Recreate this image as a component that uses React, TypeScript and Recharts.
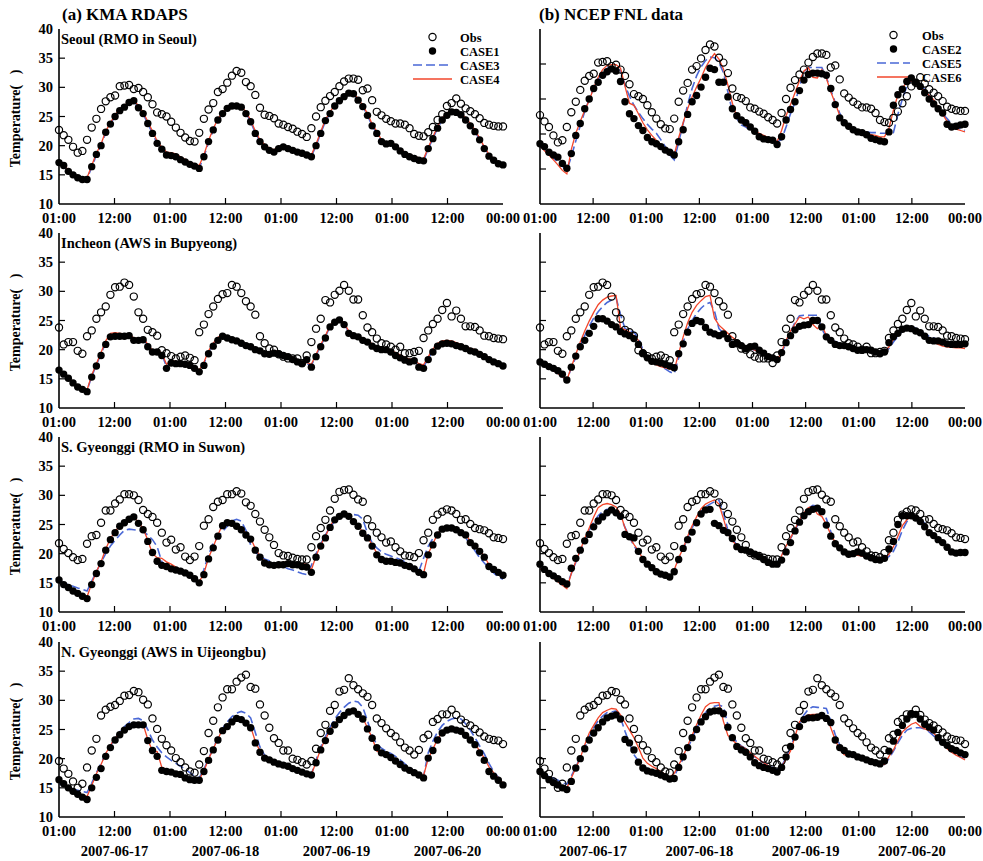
import React from "react";
import { ComposedChart, Line, XAxis, YAxis } from "recharts";

const FONT = '"Liberation Serif", "Times New Roman", serif';

const TIME_LABELS = ["01:00", "12:00", "01:00", "12:00", "01:00", "12:00", "01:00", "12:00", "00:00"];
const DATE_LABELS = ["2007-06-17", "2007-06-18", "2007-06-19", "2007-06-20"];
const KMA_NAMES = ["CASE1", "CASE3", "CASE4"];
const FNL_NAMES = ["CASE2", "CASE5", "CASE6"];

// hourly 2m temperature, 06-17 01:00 .. 06-21 00:00
const SEOUL_OBS = [
  22.7, 21.8, 21.0, 19.8, 18.8, 19.1, 21.0, 23.1, 24.6, 26.3, 27.6, 28.3, 28.6, 30.2, 30.3, 30.4, 29.7, 29.9, 29.2, 28.3, 27.1, 25.7, 25.4, 25.0,
  24.1, 23.1, 22.2, 21.4, 20.8, 20.7, 22.2, 24.6, 26.2, 27.3, 29.2, 29.7, 30.8, 32.0, 32.8, 32.5, 30.9, 30.2, 28.7, 26.5, 25.3, 25.1, 24.7, 23.8,
  23.6, 23.2, 22.9, 22.4, 22.0, 21.5, 23.0, 25.0, 26.6, 27.7, 28.5, 29.2, 30.2, 31.0, 31.5, 31.5, 31.3, 29.5, 29.8, 27.8, 25.8, 25.2, 24.6, 24.2,
  23.8, 23.8, 23.6, 23.0, 22.0, 21.7, 21.6, 22.3, 23.2, 24.4, 25.4, 26.8, 27.3, 28.1, 27.2, 26.4, 25.9, 25.4, 24.7, 23.9, 23.6, 23.4, 23.3, 23.3,
];
const SEOUL_CASE1 = [
  17.1, 16.6, 15.6, 15.0, 14.5, 14.2, 14.2, 16.4, 18.5, 20.0, 22.3, 23.7, 25.0, 26.0, 26.6, 27.4, 27.7, 26.5, 25.5, 23.8, 22.1, 20.4, 19.4, 18.4,
  18.3, 18.1, 17.6, 17.2, 16.8, 16.5, 16.1, 18.1, 20.7, 22.7, 24.4, 25.5, 26.4, 26.8, 26.8, 26.6, 25.5, 24.1, 22.1, 20.7, 19.8, 19.2, 18.9, 19.5,
  19.8, 19.5, 19.2, 18.9, 18.7, 18.4, 18.1, 20.0, 22.1, 24.3, 25.5, 26.8, 27.7, 28.4, 29.0, 28.9, 27.8, 26.7, 25.2, 23.4, 22.1, 20.7, 20.3, 20.4,
  19.8, 19.1, 18.5, 18.1, 17.8, 17.5, 17.4, 19.5, 21.2, 23.0, 24.4, 25.2, 25.8, 25.7, 25.3, 24.4, 23.4, 22.4, 21.0, 19.5, 18.2, 17.5, 16.9, 16.7,
];
const SEOUL_CASE3 = [
  17.0, 16.5, 15.5, 15.0, 14.6, 14.3, 14.3, 16.3, 18.4, 20.0, 22.2, 23.7, 25.0, 26.0, 26.6, 27.3, 27.6, 26.4, 25.4, 23.8, 22.1, 20.4, 19.4, 18.6,
  18.4, 18.2, 17.7, 17.3, 16.9, 16.6, 16.2, 18.1, 20.6, 22.6, 24.3, 25.5, 26.4, 26.8, 26.8, 26.6, 25.6, 24.1, 22.2, 20.8, 19.9, 19.3, 19.0, 19.6,
  19.8, 19.5, 19.2, 18.9, 18.7, 18.4, 18.2, 20.0, 22.1, 24.2, 25.5, 26.8, 27.7, 28.4, 28.9, 28.9, 27.8, 26.7, 25.2, 23.4, 22.1, 20.8, 20.3, 20.4,
  19.8, 19.1, 18.6, 18.2, 17.9, 17.6, 17.4, 19.5, 21.2, 23.0, 24.4, 25.3, 25.8, 25.8, 25.3, 24.5, 23.5, 22.4, 21.1, 19.6, 18.3, 17.6, 17.0, 16.8,
];
const SEOUL_CASE4 = [
  17.6, 16.8, 15.8, 15.2, 14.8, 14.6, 14.5, 16.6, 18.7, 20.3, 22.5, 23.9, 25.3, 26.3, 26.9, 27.6, 27.9, 26.8, 25.8, 24.1, 22.5, 20.8, 19.7, 18.9,
  18.8, 18.6, 18.1, 17.6, 17.2, 16.9, 16.6, 18.4, 20.9, 22.9, 24.6, 25.7, 26.6, 27.0, 27.0, 26.8, 25.8, 24.4, 22.5, 21.0, 20.2, 19.6, 19.3, 19.9,
  20.1, 19.8, 19.5, 19.2, 19.0, 18.7, 18.4, 20.3, 22.4, 24.5, 25.8, 27.0, 27.9, 28.6, 29.2, 29.1, 28.0, 26.9, 25.5, 23.7, 22.4, 21.0, 20.6, 20.7,
  20.1, 19.4, 18.9, 18.5, 18.2, 17.9, 17.7, 19.7, 21.5, 23.3, 24.7, 25.6, 26.1, 26.1, 25.6, 24.8, 23.8, 22.7, 21.3, 19.8, 18.5, 17.8, 17.2, 17.0,
];
const SEOUL_CASE2 = [
  18.6, 18.2, 17.4, 17.0, 16.7, 15.8, 15.1, 17.2, 19.8, 21.5, 23.6, 25.0, 26.5, 27.4, 28.4, 28.9, 29.3, 29.0, 27.5, 24.6, 22.9, 22.2, 21.2, 20.5,
  19.5, 18.9, 18.6, 18.2, 17.7, 17.4, 17.0, 18.9, 20.6, 22.8, 24.6, 25.5, 26.7, 28.1, 29.4, 29.2, 27.4, 27.4, 25.3, 23.6, 22.6, 22.0, 21.6, 21.0,
  20.4, 19.6, 19.3, 19.2, 19.1, 18.5, 19.6, 22.0, 23.5, 24.6, 26.2, 27.7, 28.5, 28.7, 28.7, 28.6, 28.4, 26.5, 24.2, 22.3, 21.6, 21.1, 20.6, 20.3,
  20.2, 19.9, 19.4, 19.2, 19.0, 18.9, 20.3, 24.1, 25.6, 26.4, 27.5, 28.0, 27.4, 26.8, 25.9, 25.0, 24.3, 23.6, 23.0, 21.4, 21.0, 21.1, 21.3, 21.4,
];
const SEOUL_CASE5 = [
  18.2, 17.8, 17.2, 16.6, 16.0, 15.4, 14.8, 16.8, 19.0, 21.2, 23.2, 25.0, 26.5, 27.8, 28.8, 29.4, 29.5, 29.3, 29.1, 27.0, 25.4, 24.1, 23.1, 22.2,
  21.4, 20.7, 20.1, 19.2, 18.2, 17.0, 16.3, 18.8, 21.5, 24.2, 26.5, 28.3, 29.6, 30.5, 31.0, 30.9, 30.2, 28.8, 26.0, 23.2, 22.2, 21.3, 21.0, 20.6,
  20.3, 19.9, 19.6, 19.3, 19.0, 18.9, 19.2, 21.0, 22.9, 24.5, 26.7, 28.9, 29.5, 29.5, 29.5, 29.5, 28.1, 26.3, 24.5, 23.0, 21.6, 21.0, 20.7, 20.5,
  20.3, 20.3, 20.2, 20.2, 20.1, 20.1, 20.1, 20.2, 22.8, 25.0, 26.8, 27.6, 27.3, 26.9, 26.4, 25.5, 24.6, 23.7, 22.9, 22.2, 21.5, 21.0, 20.7, 20.5,
];
const SEOUL_CASE6 = [
  18.3, 17.6, 17.0, 16.3, 15.6, 14.8, 14.3, 17.8, 20.1, 21.8, 23.4, 24.8, 26.6, 28.1, 29.2, 29.8, 29.9, 29.9, 29.4, 26.8, 24.4, 24.1, 22.9, 21.6,
  20.6, 19.8, 19.1, 18.5, 17.9, 17.3, 17.0, 19.5, 21.6, 23.6, 25.3, 26.7, 28.0, 29.5, 30.6, 31.5, 30.7, 29.3, 27.0, 24.4, 22.4, 21.7, 21.2, 20.8,
  20.4, 20.1, 19.8, 19.5, 19.2, 18.9, 20.5, 22.6, 24.2, 25.9, 27.6, 29.0, 29.5, 28.1, 28.0, 29.2, 28.0, 26.0, 24.4, 22.6, 21.6, 20.9, 20.6, 20.3,
  20.1, 20.0, 19.9, 19.8, 19.6, 19.6, 20.8, 23.4, 25.6, 26.6, 27.4, 27.6, 27.2, 26.7, 26.1, 25.5, 24.9, 23.8, 22.8, 21.8, 21.0, 20.7, 20.5, 20.3,
];

const INCHEON_OBS = [
  23.8, 20.9, 21.3, 21.3, 19.8, 19.3, 22.3, 23.3, 25.3, 26.4, 27.4, 29.4, 30.7, 30.8, 31.5, 31.1, 29.1, 26.4, 25.3, 23.4, 23.0, 22.4, 19.9, 19.4,
  18.9, 18.5, 18.8, 19.0, 18.6, 18.2, 23.0, 24.3, 26.1, 27.4, 28.7, 29.5, 29.7, 31.1, 30.8, 29.7, 28.3, 27.4, 26.0, 22.3, 21.1, 20.2, 20.0, 19.2,
  18.8, 18.5, 18.5, 18.5, 17.7, 19.0, 21.3, 23.6, 25.3, 28.5, 28.1, 29.4, 30.1, 31.1, 30.1, 28.6, 28.6, 25.9, 23.8, 23.0, 21.9, 21.1, 20.9, 20.5,
  20.0, 20.5, 19.4, 19.4, 19.6, 19.8, 22.0, 23.3, 24.4, 25.3, 26.8, 28.0, 25.7, 26.7, 25.3, 24.0, 24.0, 23.9, 23.3, 22.4, 22.3, 22.0, 21.9, 21.8,
];
const INCHEON_CASE1 = [
  16.5, 15.8, 15.1, 14.3, 13.6, 13.2, 12.8, 15.3, 17.2, 19.0, 20.9, 22.2, 22.3, 22.3, 22.3, 22.4, 21.6, 21.6, 21.7, 20.5, 19.6, 19.6, 19.0, 16.8,
  17.7, 17.6, 17.6, 17.5, 17.3, 16.8, 16.2, 17.3, 19.3, 20.6, 21.6, 22.3, 22.0, 21.7, 21.5, 21.1, 20.7, 20.5, 20.0, 19.8, 19.3, 19.2, 19.4, 19.3,
  19.0, 18.8, 18.3, 17.9, 17.6, 18.3, 17.0, 18.8, 20.5, 22.0, 23.9, 24.7, 25.1, 24.3, 22.8, 22.4, 22.2, 21.6, 21.3, 20.6, 20.2, 20.0, 20.0, 19.6,
  19.0, 18.6, 18.2, 17.9, 18.1, 17.0, 16.8, 18.3, 19.6, 20.6, 21.0, 21.1, 21.0, 20.7, 20.5, 20.2, 19.8, 19.6, 19.2, 18.8, 18.3, 17.9, 17.6, 17.2,
];
const INCHEON_CASE3 = [
  16.4, 15.8, 15.1, 14.4, 13.7, 13.3, 13.0, 15.4, 17.4, 19.3, 21.2, 22.4, 22.4, 22.4, 22.4, 22.5, 21.8, 21.8, 21.9, 20.7, 19.8, 19.8, 19.2, 17.1,
  17.9, 17.8, 17.7, 17.6, 17.4, 17.0, 16.4, 17.6, 19.6, 20.9, 21.8, 22.4, 22.1, 21.8, 21.6, 21.2, 20.8, 20.6, 20.1, 19.9, 19.4, 19.4, 19.5, 19.4,
  19.1, 18.9, 18.5, 18.1, 17.8, 17.6, 17.3, 19.0, 20.7, 22.2, 24.0, 24.8, 25.2, 24.4, 23.0, 22.5, 22.3, 21.7, 21.4, 20.8, 20.3, 20.1, 20.1, 19.7,
  19.2, 18.8, 18.4, 18.1, 17.9, 17.2, 17.0, 18.5, 19.8, 20.8, 21.2, 21.3, 21.2, 20.9, 20.6, 20.3, 19.9, 19.7, 19.3, 18.9, 18.4, 18.0, 17.7, 17.3,
];
const INCHEON_CASE4 = [
  16.6, 15.9, 15.2, 14.5, 13.8, 13.4, 13.1, 15.6, 17.6, 19.5, 21.5, 22.8, 22.9, 22.8, 22.7, 22.7, 22.0, 21.9, 22.1, 20.9, 19.9, 20.0, 19.4, 17.5,
  18.1, 18.0, 17.9, 17.8, 17.6, 17.1, 16.5, 17.8, 19.8, 21.1, 22.1, 22.7, 22.3, 22.0, 21.8, 21.4, 21.0, 20.8, 20.3, 20.1, 19.6, 19.6, 19.8, 19.7,
  19.4, 19.1, 18.7, 18.3, 18.0, 17.8, 17.5, 19.2, 20.9, 22.4, 24.2, 25.0, 25.4, 24.6, 23.2, 22.7, 22.5, 21.9, 21.6, 21.0, 20.5, 20.3, 20.3, 19.9,
  19.5, 19.1, 18.7, 18.4, 18.2, 17.6, 17.4, 18.8, 20.1, 21.1, 21.5, 21.6, 21.5, 21.2, 20.9, 20.6, 20.2, 20.0, 19.6, 19.1, 18.6, 18.2, 17.9, 17.5,
];
const INCHEON_CASE2 = [
  17.9, 17.5, 17.1, 16.8, 16.4, 15.8, 14.8, 17.0, 18.9, 20.5, 21.6, 22.8, 24.0, 25.3, 25.3, 24.9, 24.3, 23.9, 23.1, 22.7, 22.4, 21.9, 20.9, 19.4,
  18.6, 18.0, 17.9, 17.7, 17.5, 17.2, 16.9, 19.3, 21.0, 23.0, 24.5, 25.0, 24.8, 23.8, 23.0, 22.7, 22.4, 22.7, 21.9, 20.9, 21.1, 20.7, 20.2, 20.5,
  20.6, 19.9, 19.4, 18.8, 18.6, 18.3, 19.5, 21.2, 22.4, 23.4, 24.0, 24.2, 24.3, 25.0, 25.0, 23.9, 22.2, 21.6, 20.9, 20.7, 20.7, 20.5, 20.2, 19.9,
  19.9, 20.0, 19.9, 19.6, 19.3, 19.6, 21.2, 22.2, 22.8, 23.5, 23.7, 23.6, 23.2, 22.9, 22.3, 21.6, 21.5, 21.5, 21.3, 21.0, 20.9, 20.9, 20.9, 21.0,
];
const INCHEON_CASE5 = [
  17.9, 17.4, 16.9, 16.4, 15.9, 15.3, 14.8, 16.8, 18.7, 20.6, 22.4, 24.0, 25.4, 26.5, 27.4, 28.1, 28.5, 28.9, 26.0, 23.6, 23.3, 23.0, 22.0, 20.0,
  18.8, 18.2, 17.7, 17.2, 16.7, 16.2, 15.9, 18.6, 21.3, 23.5, 25.0, 26.2, 27.1, 27.8, 28.1, 26.6, 23.6, 22.8, 22.2, 21.6, 21.2, 20.7, 20.4, 20.2,
  19.9, 19.6, 19.3, 19.0, 18.6, 18.2, 19.5, 21.0, 23.0, 24.7, 25.8, 25.9, 25.9, 25.9, 25.9, 23.5, 22.2, 21.8, 21.4, 21.1, 20.9, 20.6, 20.4, 20.3,
  20.2, 20.1, 20.0, 19.8, 19.7, 19.6, 20.2, 21.3, 22.3, 23.2, 23.8, 24.0, 23.7, 23.1, 22.7, 22.3, 22.0, 21.7, 21.5, 21.1, 20.9, 20.8, 20.7, 20.7,
];
const INCHEON_CASE6 = [
  17.9, 17.4, 16.9, 16.4, 15.9, 15.3, 14.8, 17.0, 19.2, 21.3, 23.2, 24.9, 26.4, 27.7, 28.5, 29.0, 29.2, 29.3, 23.8, 23.4, 23.0, 22.4, 21.6, 19.5,
  18.4, 17.8, 17.4, 17.1, 16.9, 16.7, 16.5, 19.4, 22.2, 24.6, 26.4, 27.6, 28.4, 29.1, 29.3, 25.4, 24.2, 23.5, 22.8, 22.1, 21.6, 21.0, 20.6, 20.2,
  19.9, 19.6, 19.2, 18.9, 18.5, 18.2, 19.6, 21.6, 23.2, 24.4, 25.6, 25.3, 25.6, 24.3, 23.6, 24.3, 22.4, 21.8, 21.3, 20.9, 20.6, 20.4, 20.2, 20.1,
  20.0, 19.9, 19.8, 19.7, 19.6, 19.6, 20.5, 21.8, 23.0, 23.7, 23.9, 23.6, 23.0, 22.7, 22.2, 21.8, 21.3, 20.9, 20.6, 20.5, 20.4, 20.3, 20.3, 20.2,
];

const SG_OBS = [
  21.8, 20.8, 20.1, 19.4, 18.9, 19.1, 21.7, 23.0, 23.2, 25.3, 27.4, 27.4, 28.6, 29.3, 30.2, 30.2, 30.0, 29.2, 27.5, 26.8, 26.3, 25.3, 23.6, 21.9,
  22.4, 20.7, 21.1, 19.5, 18.9, 19.5, 21.3, 24.8, 25.9, 28.0, 28.9, 29.2, 30.2, 30.2, 30.7, 30.3, 28.8, 28.2, 26.8, 25.5, 24.1, 22.8, 21.5, 20.1,
  19.7, 19.6, 19.3, 19.1, 19.0, 19.0, 21.1, 23.0, 24.4, 25.8, 27.4, 29.4, 30.6, 30.9, 31.0, 30.1, 29.3, 28.9, 25.9, 24.7, 23.6, 22.8, 21.9, 22.1,
  21.1, 20.4, 19.7, 19.6, 19.4, 20.1, 22.3, 23.6, 25.8, 26.7, 27.2, 27.6, 27.4, 26.8, 25.8, 25.9, 25.1, 24.4, 24.2, 24.0, 23.5, 22.8, 22.7, 22.5,
];
const SG_CASE1 = [
  15.5, 14.7, 14.2, 13.6, 13.2, 12.7, 12.3, 14.7, 16.6, 18.3, 20.6, 22.4, 23.6, 24.7, 25.3, 25.9, 26.3, 25.2, 24.1, 22.1, 20.2, 18.7, 18.0, 17.8,
  17.4, 17.2, 17.0, 16.7, 16.3, 15.7, 15.0, 16.4, 19.1, 21.0, 23.0, 24.8, 25.3, 25.2, 24.7, 24.1, 23.2, 22.5, 20.6, 19.4, 18.4, 18.1, 18.0, 18.1,
  18.1, 18.3, 18.1, 18.1, 17.8, 17.7, 16.8, 19.4, 21.3, 22.7, 24.5, 25.8, 26.4, 26.8, 26.4, 25.5, 24.7, 23.5, 22.7, 21.3, 19.8, 19.0, 18.7, 18.7,
  18.5, 18.4, 18.0, 17.8, 17.4, 16.8, 16.4, 19.8, 21.5, 23.2, 24.2, 24.4, 24.4, 24.1, 23.6, 23.2, 21.9, 21.3, 20.4, 19.4, 17.8, 17.3, 16.8, 16.3,
];
const SG_CASE3 = [
  15.3, 15.0, 14.7, 14.4, 14.1, 13.9, 13.6, 15.3, 16.9, 18.5, 20.0, 21.3, 22.3, 23.2, 24.0, 24.2, 24.1, 24.0, 23.8, 23.2, 22.4, 21.2, 18.6, 17.7,
  17.4, 17.2, 17.0, 16.6, 16.0, 15.3, 15.0, 17.3, 19.8, 21.8, 22.9, 23.8, 24.7, 25.6, 25.9, 25.6, 24.0, 21.5, 20.2, 19.6, 19.1, 18.8, 18.4, 18.1,
  17.8, 17.4, 17.2, 16.9, 16.6, 16.4, 18.0, 20.0, 21.7, 23.2, 24.6, 25.5, 26.1, 26.6, 26.7, 26.7, 26.6, 25.9, 23.5, 21.9, 21.0, 20.3, 19.9, 19.6,
  19.3, 19.0, 18.6, 18.1, 17.5, 17.0, 19.2, 21.3, 22.6, 23.5, 24.2, 24.6, 24.6, 24.2, 23.5, 22.7, 21.6, 20.5, 19.3, 18.4, 17.5, 16.7, 16.0, 15.6,
];
const SG_CASE4 = [
  15.5, 14.9, 14.4, 13.9, 13.4, 13.0, 12.6, 14.9, 16.9, 18.6, 20.8, 22.6, 23.8, 24.8, 25.5, 26.0, 26.3, 25.4, 24.3, 22.3, 20.0, 19.3, 19.2, 18.6,
  18.2, 17.7, 17.3, 16.9, 16.4, 15.9, 15.2, 16.6, 19.3, 21.2, 23.2, 25.0, 25.5, 25.3, 24.8, 24.3, 23.5, 22.7, 20.9, 19.6, 18.7, 18.4, 18.3, 18.4,
  18.5, 18.6, 18.5, 18.4, 18.3, 18.2, 17.2, 19.6, 21.5, 23.0, 24.7, 26.0, 26.6, 26.9, 26.5, 25.7, 24.8, 23.7, 22.9, 21.5, 20.1, 19.2, 18.9, 18.9,
  18.7, 18.6, 18.2, 18.0, 17.6, 17.0, 16.6, 20.0, 21.7, 23.4, 24.5, 24.7, 24.6, 24.3, 23.8, 23.4, 22.1, 21.5, 20.6, 19.6, 18.1, 17.5, 17.0, 16.4,
];
const SG_CASE2 = [
  18.2, 17.3, 16.6, 16.2, 15.7, 15.2, 14.8, 17.5, 19.2, 20.6, 22.2, 23.3, 24.6, 25.6, 26.3, 27.0, 27.5, 27.0, 26.4, 23.3, 22.9, 22.7, 20.4, 19.0,
  18.2, 17.6, 16.9, 16.5, 16.3, 16.0, 16.9, 19.0, 20.9, 22.4, 23.7, 25.3, 26.8, 27.5, 27.6, 25.2, 24.8, 24.0, 23.6, 22.6, 21.2, 20.7, 20.6, 20.3,
  19.9, 19.5, 19.0, 18.5, 18.2, 18.2, 18.9, 20.3, 21.9, 23.9, 25.4, 26.5, 27.2, 27.6, 27.8, 27.2, 24.9, 23.0, 21.7, 21.0, 20.3, 19.9, 20.0, 20.3,
  20.1, 19.6, 19.3, 19.0, 18.9, 19.2, 20.8, 22.1, 25.0, 26.5, 26.5, 26.5, 26.1, 25.5, 24.6, 23.6, 23.1, 22.4, 21.9, 21.1, 20.3, 20.1, 20.2, 20.2,
];
const SG_CASE5 = [
  17.6, 17.1, 16.6, 16.1, 15.6, 15.1, 14.6, 16.6, 18.5, 20.4, 22.3, 24.0, 25.4, 26.5, 27.2, 27.6, 27.6, 27.2, 26.3, 24.5, 22.8, 21.4, 20.1, 19.0,
  18.3, 17.7, 17.1, 16.6, 16.1, 15.7, 17.0, 19.0, 20.8, 22.7, 24.4, 26.0, 27.2, 28.0, 28.5, 28.9, 29.2, 27.0, 24.0, 22.4, 21.6, 21.1, 20.7, 20.4,
  20.1, 19.7, 19.3, 18.9, 18.6, 18.4, 19.6, 21.2, 22.6, 24.0, 25.6, 26.9, 27.8, 28.3, 28.1, 27.6, 26.0, 23.8, 22.1, 21.0, 20.4, 20.1, 19.9, 19.8,
  19.7, 19.5, 19.4, 19.3, 19.2, 19.1, 19.5, 20.4, 22.0, 24.0, 25.5, 26.3, 26.4, 26.0, 25.2, 24.0, 23.1, 22.5, 21.9, 21.2, 20.5, 20.2, 20.0, 19.9,
];
const SG_CASE6 = [
  17.4, 16.9, 16.4, 15.8, 15.2, 14.6, 14.0, 16.6, 18.7, 20.6, 22.6, 24.4, 26.3, 27.9, 28.4, 28.6, 28.4, 28.0, 26.8, 24.4, 22.8, 21.6, 20.5, 19.1,
  18.4, 17.8, 17.2, 16.6, 16.1, 15.7, 17.2, 19.3, 20.9, 23.0, 24.8, 26.3, 27.7, 28.5, 28.9, 29.2, 28.5, 26.0, 23.4, 22.2, 21.4, 21.0, 20.7, 20.3,
  20.0, 19.6, 19.1, 18.8, 18.4, 18.1, 19.7, 21.3, 22.7, 24.2, 25.8, 27.0, 27.9, 28.1, 26.8, 26.4, 25.0, 23.3, 21.9, 20.8, 20.3, 20.1, 19.9, 19.7,
  19.6, 19.5, 19.4, 19.3, 19.2, 19.1, 19.9, 21.2, 23.0, 24.8, 25.8, 26.4, 26.2, 25.8, 24.9, 23.5, 22.8, 22.3, 21.8, 21.1, 20.3, 20.1, 20.0, 20.0,
];

const NG_OBS = [
  19.6, 18.3, 17.4, 16.1, 15.0, 15.7, 18.5, 21.4, 23.4, 27.4, 28.4, 28.9, 29.2, 29.9, 30.8, 30.9, 31.6, 31.4, 30.1, 29.3, 26.9, 25.1, 23.4, 22.3,
  21.4, 20.1, 19.4, 18.5, 17.8, 17.6, 19.0, 21.3, 24.4, 26.5, 28.8, 30.5, 31.9, 31.9, 33.2, 33.9, 34.4, 32.3, 32.0, 29.3, 27.4, 25.3, 23.5, 22.7,
  21.4, 21.4, 20.0, 19.8, 19.4, 19.0, 19.6, 21.7, 24.4, 25.8, 28.2, 29.2, 31.5, 31.8, 33.8, 32.6, 31.9, 31.2, 30.6, 29.2, 26.9, 26.1, 25.2, 24.4,
  23.8, 22.8, 21.9, 21.4, 20.7, 21.5, 23.5, 24.1, 26.3, 26.8, 27.6, 27.6, 28.4, 27.5, 26.7, 26.1, 25.7, 25.1, 24.5, 23.8, 23.4, 23.2, 23.1, 22.5,
];
const NG_CASE1 = [
  16.4, 15.7, 15.0, 14.4, 13.9, 13.4, 13.0, 15.0, 16.8, 18.3, 20.4, 21.9, 23.2, 24.1, 24.9, 25.5, 25.8, 25.8, 25.8, 23.1, 21.4, 20.4, 18.0, 17.8,
  17.7, 17.4, 17.3, 16.7, 16.4, 16.3, 16.3, 17.8, 19.7, 21.5, 23.2, 24.8, 25.5, 26.3, 26.9, 26.7, 26.1, 25.3, 22.7, 21.1, 20.1, 19.8, 19.4, 19.1,
  18.9, 18.7, 18.3, 18.0, 17.7, 17.4, 17.2, 19.3, 21.5, 23.1, 24.7, 25.8, 26.7, 27.4, 28.0, 28.2, 27.6, 26.8, 25.1, 23.5, 21.9, 21.0, 20.7, 20.2,
  19.6, 19.0, 18.4, 18.0, 17.6, 17.2, 16.7, 20.1, 21.4, 23.2, 24.4, 24.9, 25.1, 24.9, 24.7, 24.0, 23.2, 22.4, 21.0, 19.7, 17.8, 17.0, 16.3, 15.5,
];
const NG_CASE3 = [
  15.7, 15.4, 15.1, 14.8, 14.6, 14.4, 14.2, 15.8, 17.6, 19.2, 20.8, 22.2, 23.5, 24.6, 25.5, 26.2, 26.8, 26.9, 26.5, 25.0, 23.2, 22.0, 21.0, 20.3,
  19.7, 19.2, 18.7, 18.2, 17.6, 17.0, 16.7, 18.2, 20.0, 21.8, 23.6, 25.2, 26.3, 27.2, 27.8, 28.1, 27.8, 27.0, 24.5, 22.0, 20.6, 20.0, 19.7, 19.4,
  19.1, 18.8, 18.4, 18.1, 17.8, 17.5, 17.3, 19.8, 22.0, 23.8, 25.4, 26.8, 27.9, 28.8, 29.5, 29.9, 29.7, 28.8, 26.5, 24.0, 22.4, 21.8, 21.3, 20.9,
  20.4, 19.8, 19.1, 18.5, 17.9, 17.3, 17.0, 21.0, 23.0, 24.6, 25.7, 26.4, 26.8, 27.0, 26.8, 26.0, 24.9, 23.6, 22.2, 20.8, 19.2, 17.8, 16.8, 16.1,
];
const NG_CASE4 = [
  16.6, 15.9, 15.2, 14.7, 14.2, 13.8, 13.5, 15.4, 17.4, 19.0, 20.9, 22.3, 23.5, 24.4, 25.1, 25.7, 25.9, 25.9, 25.9, 23.3, 21.3, 21.2, 18.5, 18.2,
  18.0, 17.7, 17.4, 17.0, 16.7, 16.5, 16.4, 17.9, 19.9, 21.7, 23.4, 25.0, 25.7, 26.4, 26.8, 26.6, 26.1, 25.5, 23.0, 21.3, 20.2, 20.0, 19.6, 19.3,
  19.1, 18.9, 18.5, 18.2, 17.9, 17.6, 17.3, 19.4, 21.7, 23.3, 24.9, 26.0, 26.9, 27.6, 28.1, 28.3, 27.8, 27.0, 25.3, 23.6, 21.3, 20.9, 20.6, 20.2,
  19.7, 19.2, 18.6, 18.2, 17.9, 17.5, 17.1, 20.0, 21.6, 23.4, 24.5, 25.0, 25.2, 25.0, 24.8, 24.2, 23.4, 22.6, 21.3, 20.1, 18.6, 17.6, 16.7, 15.8,
];
const NG_CASE2 = [
  17.8, 17.1, 16.4, 15.9, 15.5, 15.0, 14.7, 16.1, 18.4, 20.0, 21.7, 23.2, 24.4, 25.3, 26.3, 27.0, 27.3, 27.5, 26.8, 23.3, 22.7, 21.5, 19.4, 18.4,
  17.9, 17.7, 17.5, 17.2, 16.9, 16.5, 16.6, 18.5, 20.3, 21.9, 23.6, 25.0, 26.3, 27.2, 28.0, 28.2, 28.2, 27.7, 25.4, 23.6, 22.1, 21.5, 21.1, 20.3,
  19.3, 18.8, 18.5, 18.3, 18.0, 17.7, 18.5, 20.3, 22.1, 23.7, 25.5, 26.7, 27.0, 27.0, 27.1, 27.4, 26.9, 26.2, 23.2, 21.9, 21.4, 20.8, 20.7, 20.3,
  20.1, 19.8, 19.5, 19.3, 19.1, 19.6, 21.3, 23.0, 24.5, 25.7, 26.8, 27.7, 27.6, 26.8, 25.9, 25.4, 24.9, 23.6, 22.8, 22.3, 21.7, 21.4, 21.0, 20.7,
];
const NG_CASE5 = [
  17.6, 17.3, 17.0, 16.7, 16.3, 15.9, 15.6, 17.0, 18.6, 20.2, 22.0, 23.8, 25.3, 26.5, 27.3, 27.9, 28.0, 28.2, 27.0, 24.7, 22.6, 20.7, 19.6, 18.7,
  18.3, 17.9, 17.6, 17.3, 17.0, 16.7, 17.0, 18.5, 20.0, 21.7, 23.5, 25.2, 26.7, 27.9, 28.6, 29.0, 29.2, 28.9, 25.8, 24.0, 22.8, 22.2, 21.7, 21.0,
  20.3, 19.8, 19.3, 18.9, 18.5, 18.1, 18.7, 20.2, 22.0, 24.0, 26.0, 27.5, 28.5, 28.9, 28.8, 28.7, 28.6, 26.5, 24.1, 22.4, 21.3, 20.8, 20.4, 20.1,
  19.9, 19.7, 19.5, 19.3, 19.1, 19.0, 20.0, 21.3, 22.7, 24.0, 24.9, 25.2, 25.3, 25.3, 25.1, 24.6, 23.9, 23.2, 22.5, 21.8, 21.2, 20.7, 20.3, 20.1,
];
const NG_CASE6 = [
  17.3, 16.9, 16.5, 16.1, 15.7, 15.3, 15.0, 16.7, 18.4, 20.1, 22.4, 24.4, 25.7, 27.0, 27.9, 28.3, 28.6, 28.5, 27.5, 26.2, 24.9, 23.6, 21.9, 20.1,
  19.2, 18.7, 18.3, 17.8, 17.3, 16.8, 17.5, 18.9, 20.4, 22.2, 24.0, 25.8, 27.5, 28.9, 29.5, 29.6, 29.6, 26.4, 24.0, 23.2, 22.5, 22.1, 21.7, 21.0,
  20.4, 19.8, 19.3, 18.8, 18.3, 17.9, 18.6, 19.9, 21.3, 23.8, 26.3, 27.1, 27.5, 27.6, 27.6, 27.5, 27.2, 25.3, 23.2, 21.6, 20.7, 20.5, 20.3, 20.1,
  20.0, 19.9, 19.8, 19.5, 19.2, 19.0, 20.4, 21.5, 23.1, 24.6, 25.3, 25.9, 26.2, 25.5, 25.1, 24.8, 24.4, 23.5, 22.6, 21.7, 21.1, 20.6, 20.2, 19.8,
];

const STATIONS = [
  { name: "Seoul (RMO in Seoul)", obs: SEOUL_OBS, kma: [SEOUL_CASE1, SEOUL_CASE3, SEOUL_CASE4], fnl: [SEOUL_CASE2, SEOUL_CASE5, SEOUL_CASE6], fnlTop: 35 },
  { name: "Incheon (AWS in Bupyeong)", obs: INCHEON_OBS, kma: [INCHEON_CASE1, INCHEON_CASE3, INCHEON_CASE4], fnl: [INCHEON_CASE2, INCHEON_CASE5, INCHEON_CASE6], fnlTop: 40 },
  { name: "S. Gyeonggi (RMO in Suwon)", obs: SG_OBS, kma: [SG_CASE1, SG_CASE3, SG_CASE4], fnl: [SG_CASE2, SG_CASE5, SG_CASE6], fnlTop: 40 },
  { name: "N. Gyeonggi (AWS in Uijeongbu)", obs: NG_OBS, kma: [NG_CASE1, NG_CASE3, NG_CASE4], fnl: [NG_CASE2, NG_CASE5, NG_CASE6], fnlTop: 40 },
];

// plot-area geometry on the page
const PLOT_TOP = [29, 233, 437, 642];
const PLOT_H = 175;
const A_LEFT = 59;
const A_W = 444;
const B_LEFT = 540;
const B_W = 425;
const SIDE = 28; // room left/right of the frame for edge tick labels
const HEAD = 12; // room above the frame for the top y label
const LAST_HOUR = 95;
const X_TICKS = TIME_LABELS.map((_, i) => (i * LAST_HOUR) / 8);

const BLUE = "#4a68d6";
const RED = "#f2462b";

const textStyle = { fontFamily: FONT, fontWeight: 700, fill: "#000" } as const;

function buildRows(obs: number[], cases: number[][]) {
  return obs.map((v, i) => ({ hour: i, obs: v, s1: cases[0][i], s2: cases[1][i], s3: cases[2][i] }));
}

const makeXTick = (withDates: boolean) => (props: any) => {
  const { x, y, index } = props;
  const inner = index > 0 && index < TIME_LABELS.length - 1;
  return (
    <g>
      {inner && <line x1={x} x2={x} y1={y} y2={y - 6} stroke="#000" strokeWidth={1.2} />}
      <text x={x} y={y + 19} textAnchor="middle" fontSize={14.5} {...textStyle}>
        {TIME_LABELS[index]}
      </text>
      {withDates && index % 2 === 1 && (
        <text x={x} y={y + 39} textAnchor="middle" fontSize={14.5} {...textStyle}>
          {DATE_LABELS[(index - 1) / 2]}
        </text>
      )}
    </g>
  );
};

const makeYTick = (withLabel: boolean, top: number) => (props: any) => {
  const { x, y, payload } = props;
  const v = payload.value;
  const inner = v > 10 && v < top;
  return (
    <g>
      {inner && <line x1={x} x2={x + 6} y1={y} y2={y} stroke="#000" strokeWidth={1.2} />}
      {withLabel && (
        <text x={x - 6} y={y + 5} textAnchor="end" fontSize={14.5} {...textStyle}>
          {v}
        </text>
      )}
    </g>
  );
};

type PanelProps = {
  left: number;
  width: number;
  top: number;
  axisW: number;
  yTop: number;
  rows: any[];
  withLabels: boolean;
  withDates: boolean;
};

function Panel({ left, width, top, axisW, yTop, rows, withLabels, withDates }: PanelProps) {
  const yTicks: number[] = [];
  for (let t = 10; t <= yTop; t += 5) yTicks.push(t);
  const frame = { stroke: "#000", strokeWidth: 1.6 };
  return (
    <div style={{ position: "absolute", left: left - axisW, top: top - HEAD }}>
      <ComposedChart
        width={axisW + width + SIDE}
        height={HEAD + PLOT_H + 50}
        data={rows}
        margin={{ top: HEAD, right: SIDE, bottom: 0, left: 0 }}
      >
        <XAxis
          dataKey="hour"
          type="number"
          domain={[0, LAST_HOUR]}
          ticks={X_TICKS}
          interval={0}
          tickSize={0}
          tickMargin={0}
          height={50}
          axisLine={frame}
          tick={makeXTick(withDates)}
        />
        <XAxis xAxisId="top" orientation="top" type="number" domain={[0, LAST_HOUR]} height={0} tick={false} tickLine={false} axisLine={frame} />
        <YAxis
          type="number"
          domain={[10, yTop]}
          ticks={yTicks}
          interval={0}
          tickSize={0}
          tickMargin={0}
          width={axisW}
          axisLine={frame}
          tick={makeYTick(withLabels, yTop)}
        />
        <YAxis yAxisId="right" orientation="right" type="number" domain={[10, yTop]} width={0} tick={false} tickLine={false} axisLine={frame} />
        <Line
          dataKey="obs"
          stroke="none"
          isAnimationActive={false}
          activeDot={false}
          dot={{ r: 3.6, fill: "none", stroke: "#000", strokeWidth: 1.2 }}
        />
        <Line
          dataKey="s1"
          stroke="none"
          isAnimationActive={false}
          activeDot={false}
          dot={{ r: 3.7, fill: "#000", stroke: "none" }}
        />
        <Line dataKey="s2" type="linear" stroke={BLUE} strokeWidth={1.6} strokeDasharray="9 4" dot={false} activeDot={false} isAnimationActive={false} />
        <Line dataKey="s3" type="linear" stroke={RED} strokeWidth={1.3} dot={false} activeDot={false} isAnimationActive={false} />
      </ComposedChart>
    </div>
  );
}

function LegendBox({ x, y, lineFrom, lineTo, textX, names }: { x: number; y: number; lineFrom: number; lineTo: number; textX: number; names: string[] }) {
  const rows = ["Obs", ...names];
  const mid = (lineFrom + lineTo) / 2;
  return (
    <g>
      {rows.map((label, i) => {
        const cy = y + i * 14;
        return (
          <g key={label}>
            {i === 0 && <circle cx={x + mid} cy={cy} r={3.6} fill="none" stroke="#000" strokeWidth={1.2} />}
            {i === 1 && <circle cx={x + mid} cy={cy} r={3.7} fill="#000" />}
            {i === 2 && <line x1={x + lineFrom} x2={x + lineTo} y1={cy} y2={cy} stroke={BLUE} strokeWidth={1.6} strokeDasharray="9 4" />}
            {i === 3 && <line x1={x + lineFrom} x2={x + lineTo} y1={cy} y2={cy} stroke={RED} strokeWidth={1.3} />}
            <text x={x + textX} y={cy + 4.5} fontSize={12.5} {...textStyle}>
              {label}
            </text>
          </g>
        );
      })}
    </g>
  );
}

export default function App() {
  return (
    <div style={{ position: "absolute", left: 0, top: 0, width: 983, height: 861, background: "#fff", overflow: "hidden" }}>
      <svg width={983} height={861} style={{ position: "absolute", left: 0, top: 0 }}>
        <text x={62} y={20} fontSize={17} {...textStyle}>(a) KMA RDAPS</text>
        <text x={539} y={20} fontSize={17} {...textStyle}>(b) NCEP FNL data</text>
        {STATIONS.map((s, r) => (
          <g key={s.name}>
            <text x={61} y={PLOT_TOP[r] + 15} fontSize={14.5} {...textStyle}>{s.name}</text>
            <text
              transform={`translate(20, ${PLOT_TOP[r] + PLOT_H / 2 + 2}) rotate(-90)`}
              textAnchor="middle"
              fontSize={14}
              {...textStyle}
            >
              {"Temperature(\u00a0\u00a0\u00a0)"}
            </text>
          </g>
        ))}
        <LegendBox x={400} y={37} lineFrom={13} lineTo={52} textX={60} names={KMA_NAMES} />
        <LegendBox x={870} y={35} lineFrom={7} lineTo={40} textX={52} names={FNL_NAMES} />
      </svg>
      {STATIONS.map((s, r) => (
        <React.Fragment key={s.name}>
          <Panel
            left={A_LEFT}
            width={A_W}
            top={PLOT_TOP[r]}
            axisW={45}
            yTop={40}
            rows={buildRows(s.obs, s.kma)}
            withLabels
            withDates={r === STATIONS.length - 1}
          />
          <Panel
            left={B_LEFT}
            width={B_W}
            top={PLOT_TOP[r]}
            axisW={SIDE}
            yTop={s.fnlTop}
            rows={buildRows(s.obs, s.fnl)}
            withLabels={false}
            withDates={r === STATIONS.length - 1}
          />
        </React.Fragment>
      ))}
    </div>
  );
}
